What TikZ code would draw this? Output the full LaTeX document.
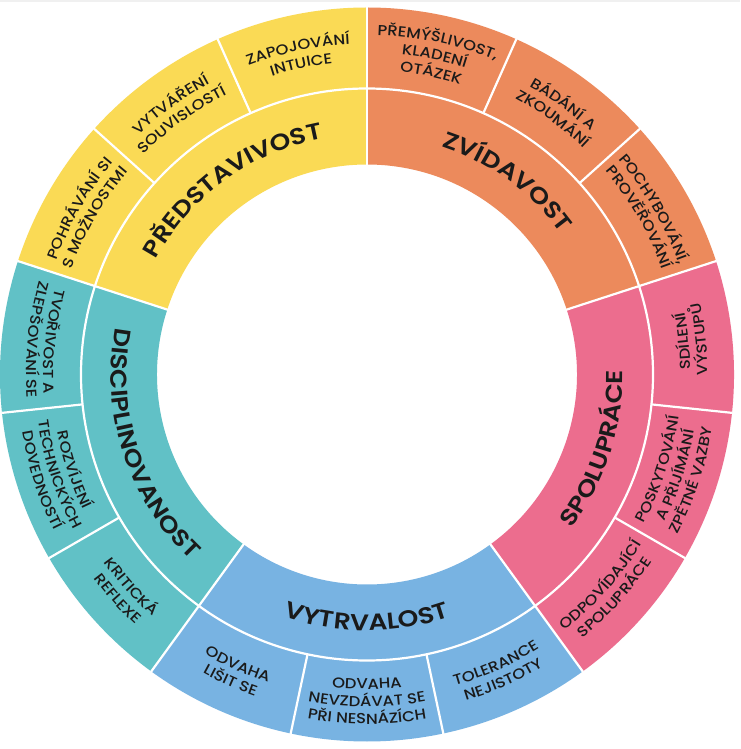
\documentclass[tikz,border=0pt]{standalone}
\usepackage{fontspec}
\setmainfont{Poppins}
\newfontfamily\pinner{Poppins SemiBold}[FakeStretch=1.15]
\newfontfamily\pouter{Poppins Medium}[FakeStretch=1.13]
\usetikzlibrary{decorations.text}
\definecolor{cyel}{HTML}{FADA55}
\definecolor{cora}{HTML}{EC8A5C}
\definecolor{cpin}{HTML}{EC6D8E}
\definecolor{cblu}{HTML}{78B3E2}
\definecolor{ctea}{HTML}{61C1C6}
\definecolor{ctxt}{HTML}{1A1A1A}
\newcommand{\innerf}{\pinner\fontsize{23}{23}\selectfont\color{ctxt}}
\newcommand{\outerf}{\pouter\fontsize{14.5}{14.5}\selectfont\color{ctxt}}
% clockwise arc text, letter tops outward: radius, centre angle, font, text
\newcommand{\arcT}[4]{%
  \pgfmathsetmacro\aS{#2+60}\pgfmathsetmacro\aE{#2-60}%
  \path[decorate,decoration={text along path,text align=center,text={|#3|#4}}]
    (\aS:#1) arc[start angle=\aS,end angle=\aE,radius=#1];}
% counter-clockwise arc text, letter tops inward
\newcommand{\arcB}[4]{%
  \pgfmathsetmacro\aS{#2-60}\pgfmathsetmacro\aE{#2+60}%
  \path[decorate,decoration={text along path,text align=center,text={|#3|#4}}]
    (\aS:#1) arc[start angle=\aS,end angle=\aE,radius=#1];}
\newcommand{\sector}[3]{%
  \fill[#3] (#1:210) arc[start angle=#1,end angle=#2,radius=210]
    -- (#2:367) arc[start angle=#2,end angle=#1,radius=367] -- cycle;}
\begin{document}
\begin{tikzpicture}[x=1pt,y=1pt,sep/.style={white,line width=2.2pt}]
\useasboundingbox (-367,-374.5) rectangle (373,374.5);
\fill[white] (-367,-374.5) rectangle (373,374.5);
\fill[gray!12] (-367,372.5) rectangle (373,374.5);
% sectors
\sector{90}{162}{cyel}
\sector{18}{90}{cora}
\sector{-54}{18}{cpin}
\sector{-126}{-54}{cblu}
\sector{162}{234}{ctea}
% separators
\draw[sep] (0,0) circle[radius=286];
\foreach \k in {0,...,14} {
  \draw[sep] (18+24*\k:286) -- (18+24*\k:367.5);
}
\foreach \k in {0,...,4} {
  \draw[sep] (18+72*\k:209) -- (18+72*\k:286);
}
% inner labels
\arcT{240}{126}{\innerf}{PŘEDSTAVIVOST}
\arcT{240}{54}{\innerf}{ZVÍDAVOST}
\arcB{256}{-18}{\innerf}{SPOLUPRÁCE}
\arcB{256}{-90}{\innerf}{VYTRVALOST}
\arcB{256}{198}{\innerf}{DISCIPLINOVANOST}
% outer labels - yellow
\arcT{330.75}{102}{\outerf}{ZAPOJOVÁNÍ}
\arcT{313.25}{102}{\outerf}{INTUICE}
\arcT{330.75}{126}{\outerf}{VYTVÁŘENÍ}
\arcT{313.25}{126}{\outerf}{SOUVISLOSTÍ}
\arcT{330.75}{150}{\outerf}{POHRÁVÁNÍ SI}
\arcT{313.25}{150}{\outerf}{S MOŽNOSTMI}
% orange
\arcT{339.5}{78}{\outerf}{PŘEMÝŠLIVOST,}
\arcT{322}{78}{\outerf}{KLADENÍ}
\arcT{304.5}{78}{\outerf}{OTÁZEK}
\arcT{330.75}{54}{\outerf}{BÁDÁNÍ A}
\arcT{313.25}{54}{\outerf}{ZKOUMÁNÍ}
\arcT{330.75}{30}{\outerf}{POCHYBOVÁNÍ,}
\arcT{313.25}{30}{\outerf}{PROVĚŘOVÁNÍ}
% pink
\arcB{323.25}{6}{\outerf}{SDÍLENÍ}
\arcB{340.75}{6}{\outerf}{VÝSTUPŮ}
\arcB{314.5}{-18}{\outerf}{POSKYTOVÁNÍ}
\arcB{332}{-18}{\outerf}{A PŘIJÍMÁNÍ}
\arcB{349.5}{-18}{\outerf}{ZPĚTNÉ VAZBY}
\arcB{323.25}{-42}{\outerf}{ODPOVÍDAJÍCÍ}
\arcB{340.75}{-42}{\outerf}{SPOLUPRÁCE}
% blue
\arcB{323.25}{-66}{\outerf}{TOLERANCE}
\arcB{340.75}{-66}{\outerf}{NEJISTOTY}
\arcB{314.5}{-90}{\outerf}{ODVAHA}
\arcB{332}{-90}{\outerf}{NEVZDÁVAT SE}
\arcB{349.5}{-90}{\outerf}{PŘI NESNÁZÍCH}
\arcB{323.25}{-114}{\outerf}{ODVAHA}
\arcB{340.75}{-114}{\outerf}{LIŠIT SE}
% teal
\arcB{323.25}{222}{\outerf}{KRITICKÁ}
\arcB{340.75}{222}{\outerf}{REFLEXE}
\arcB{314.5}{198}{\outerf}{ROZVÍJENÍ}
\arcB{332}{198}{\outerf}{TECHNICKÝCH}
\arcB{349.5}{198}{\outerf}{DOVEDNOSTÍ}
\arcB{323.25}{174}{\outerf}{TVOŘIVOST A}
\arcB{340.75}{174}{\outerf}{ZLEPŠOVÁNÍ SE}
\end{tikzpicture}
\end{document}
